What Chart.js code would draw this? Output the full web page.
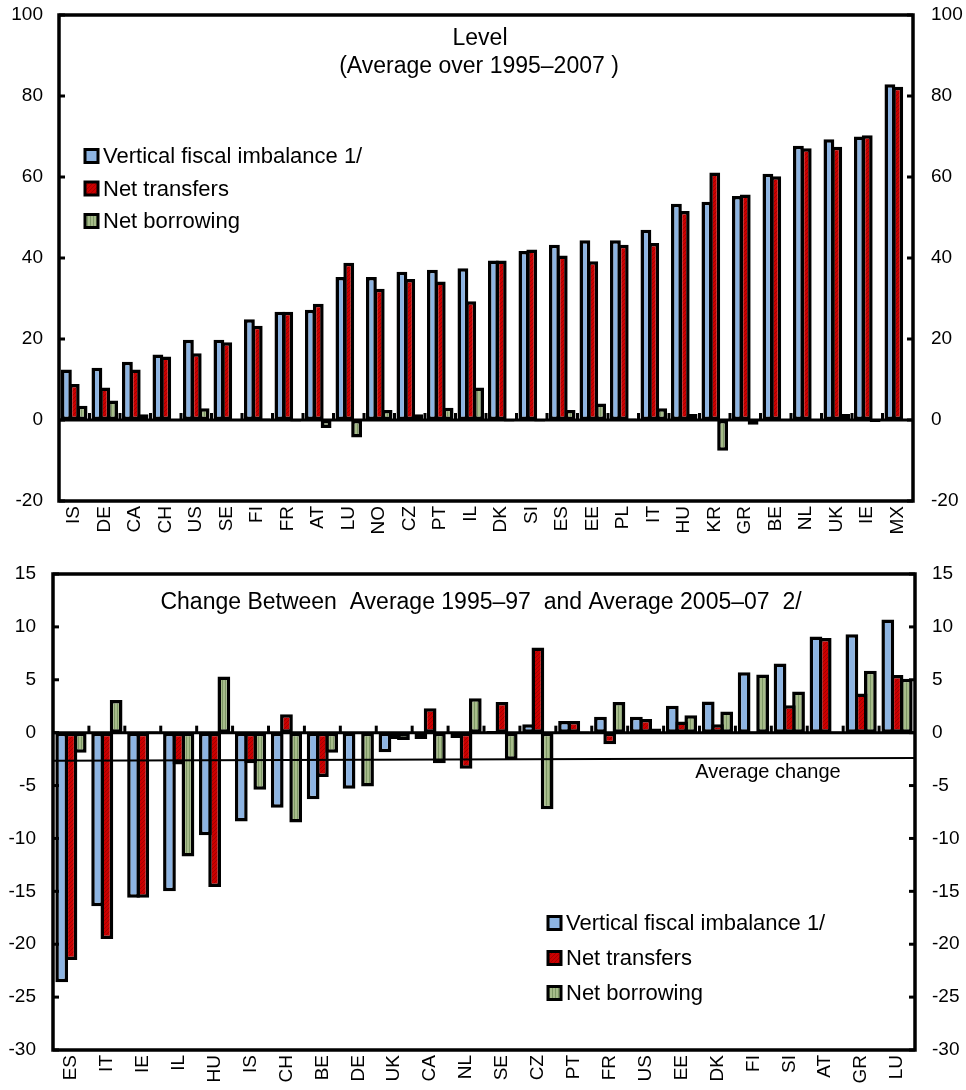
<!DOCTYPE html>
<html><head><meta charset="utf-8">
<script src="https://cdn.jsdelivr.net/npm/chart.js@4/dist/chart.umd.min.js"></script>
<style>
html,body{margin:0;padding:0;background:#fff;}
#wrap{position:relative;width:966px;height:1090px;overflow:hidden;}
canvas{position:absolute;left:0;}
#c1{top:0;}
#c2{top:545px;}
#c3{top:545px;}
</style></head><body>
<div id="wrap">
<canvas id="c1" width="966" height="545" style="width:966px;height:545px"></canvas>
<canvas id="c2" width="966" height="545" style="width:966px;height:545px"></canvas>
<canvas id="c3" width="966" height="545" style="width:966px;height:545px"></canvas>
</div>
<script>
// ---------- DATA ----------
const seriesNames = ['Vertical fiscal imbalance 1/', 'Net transfers', 'Net borrowing'];

const levelTitle = ['Level', '(Average over 1995\u20132007 )'];
const levelCategories = ['IS','DE','CA','CH','US','SE','FI','FR','AT','LU','NO','CZ','PT','IL','DK','SI','ES','EE','PL','IT','HU','KR','GR','BE','NL','UK','IE','MX'];
const levelVFI = [12.5,12.9,14.4,16.2,19.8,19.8,24.9,26.7,27.2,35.3,35.3,36.6,37.1,37.5,39.4,41.7,43.3,44.4,44.4,47.0,53.4,53.9,55.3,60.8,67.7,69.3,70.0,82.9];
const levelNT  = [8.9,8.0,12.5,15.7,16.5,19.2,23.3,26.7,28.7,38.8,32.4,34.8,34.2,29.3,39.4,42.1,40.6,39.2,43.3,43.7,51.6,61.1,55.7,60.2,67.1,67.5,70.3,82.3];
const levelNB  = [3.5,4.8,1.4,0.1,2.9,0.1,0.4,-0.4,-2.0,-4.3,2.5,1.4,3.0,8.0,-0.4,-0.4,2.5,4.1,0.4,2.9,1.5,-7.6,-1.2,0.1,0.1,1.5,-0.5,0.1];
const levelTicks = {min:-20, max:100, step:20};

const changeTitle = 'Change Between  Average 1995\u201397  and Average 2005\u201307  2/';
const changeCategories = ['ES','IT','IE','IL','HU','IS','CH','BE','DE','UK','CA','NL','SE','CZ','PT','FR','US','EE','DK','FI','SI','AT','GR','LU'];
const changeVFI = [-23.6,-16.4,-15.6,-15.0,-9.7,-8.4,-7.1,-6.3,-5.3,-1.85,-0.6,-0.5,0.15,0.8,1.1,1.5,1.5,2.55,2.95,5.7,6.55,9.1,9.3,10.7];
const changeNT  = [-21.5,-19.5,-15.6,-3.0,-14.6,-2.9,1.75,-4.2,-0.1,-0.6,2.3,-3.4,2.9,8.05,1.1,-1.1,1.3,1.05,0.8,0.1,2.6,8.95,3.7,5.45];
const changeNB  = [-1.9,3.1,0.1,-11.7,5.3,-5.4,-8.5,-1.9,-5.1,-0.7,-2.9,3.25,-2.55,-7.25,0.1,2.9,0.4,1.65,2.0,5.5,3.9,0.1,5.85,5.1];
const changeTicks = {min:-30, max:15, step:5};
const averageChangeLabel = 'Average change';
const averageChangeEnds = [-2.65, -2.4];

// ---------- STYLE ----------
const FONT = '"Liberation Sans", Arial, sans-serif';
function pattern(base, stripe, kind){
  const c = document.createElement('canvas');
  const n = kind === 'v' ? 3 : 4;
  c.width = n; c.height = n;
  const g = c.getContext('2d');
  g.fillStyle = base; g.fillRect(0,0,n,n);
  g.fillStyle = stripe;
  if (kind === 'v') { g.fillRect(0,0,1,n); }
  else { for (let i=0;i<n;i++) g.fillRect(i,n-1-i,1,1); }
  return g.createPattern(c,'repeat');
}
const fills = [
  '#8DB4E2',
  pattern('#CC0000', '#A30000', 'd'),
  pattern('#A7BC8A', '#7E9866', 'v')
];

function makeDatasets(vals){
  return vals.map((v,i)=>({
    label: seriesNames[i], data: v, backgroundColor: fills[i],
    borderColor:'#000', borderWidth:3.5, borderSkipped:false,
    categoryPercentage:0.772, barPercentage:1.38
  }));
}

function decor(opts){
  return {
    id:'decor',
    afterDatasetsDraw(chart){
      const {ctx, chartArea:a, scales} = chart;
      const ys = scales.y;
      const y0 = ys.getPixelForValue(0);
      const line = (x1,y1,x2,y2)=>{ctx.beginPath();ctx.moveTo(x1,y1);ctx.lineTo(x2,y2);ctx.stroke();};
      ctx.save();
      ctx.strokeStyle = '#000';
      ctx.lineWidth = 3;
      line(a.left, y0, a.right, y0);
      const n = chart.data.labels.length;
      for (let i=1;i<n;i++){ const x = a.left + (a.right-a.left)*i/n; line(x, y0+1, x, y0-7); }
      ys.ticks.forEach(t=>{
        const y = ys.getPixelForValue(t.value);
        line(a.left, y, a.left+6, y);
        line(a.right, y, a.right-6, y);
      });
      ctx.lineWidth = 3.5;
      ctx.strokeRect(a.left, a.top, a.right-a.left, a.bottom-a.top);
      ctx.fillStyle = '#000';
      ctx.textAlign = 'center'; ctx.textBaseline = 'middle';
      ctx.font = '23px ' + FONT;
      opts.titles.forEach(t=> ctx.fillText(t.text, t.x, t.y));
      (opts.labels||[]).forEach(t=>{ ctx.font = t.size+'px '+FONT; ctx.fillText(t.text, t.x, t.y); });
      ctx.textAlign = 'left';
      ctx.font = '22px ' + FONT;
      chart.data.datasets.forEach((d,i)=>{
        const cy = opts.legend.y + i*opts.legend.dy;
        const bx = opts.legend.x;
        ctx.fillStyle = d.backgroundColor;
        ctx.fillRect(bx, cy-6.5, 13, 13);
        ctx.lineWidth = 3;
        ctx.strokeRect(bx, cy-6.5, 13, 13);
        ctx.fillStyle = '#000';
        ctx.fillText(d.label, bx+18, cy+1);
      });
      ctx.restore();
    }
  };
}

function axisCfg(t, w, pad, pos){
  return {
    position: pos, min:t.min, max:t.max,
    ticks:{stepSize:t.step, padding:pad, color:'#000', font:{family:FONT, size:19}},
    grid:{display:false, drawTicks:false}, border:{display:false},
    afterFit(s){ s.width = w; s.paddingTop = 0; s.paddingBottom = 0; }
  };
}
function xCfg(h, size){
  return {
    grid:{display:false, drawTicks:false}, border:{display:false},
    ticks:{minRotation:90, maxRotation:90, autoSkip:false, padding:5, color:'#000', font:{family:FONT, size:size}},
    afterFit(s){ s.height = h; s.paddingLeft = 0; s.paddingRight = 0; }
  };
}

Chart.defaults.font.family = FONT;

// ---------- TOP CHART ----------
new Chart(document.getElementById('c1'), {
  type:'bar',
  data:{ labels: levelCategories, datasets: makeDatasets([levelVFI, levelNT, levelNB]) },
  options:{
    responsive:false, animation:false, devicePixelRatio:1,
    layout:{padding:{top:15, left:0, right:0, bottom:0}},
    plugins:{legend:{display:false}, tooltip:{enabled:false}},
    scales:{
      x: xCfg(44, 19),
      y: axisCfg(levelTicks, 59, 16, 'left'),
      y2: axisCfg(levelTicks, 53, 18, 'right')
    }
  },
  plugins:[decor({
    titles:[{text:levelTitle[0], x:480, y:39},{text:levelTitle[1], x:479, y:67}],
    legend:{x:85, y:156, dy:32.5}
  })]
});

// ---------- BOTTOM CHART ----------
new Chart(document.getElementById('c2'), {
  type:'bar',
  data:{ labels: changeCategories, datasets: makeDatasets([changeVFI, changeNT, changeNB]) },
  options:{
    responsive:false, animation:false, devicePixelRatio:1,
    layout:{padding:{top:29, left:0, right:0, bottom:0}},
    plugins:{legend:{display:false}, tooltip:{enabled:false}},
    scales:{
      x: xCfg(40, 19),
      y: axisCfg(changeTicks, 53, 17, 'left'),
      y2: axisCfg(changeTicks, 51, 17, 'right')
    }
  },
  plugins:[decor({
    titles:[{text:changeTitle, x:481, y:58}],
    labels:[{text:averageChangeLabel, x:768, y:227, size:20}],
    legend:{x:548, y:378, dy:35}
  })]
});

// ---------- AVERAGE CHANGE LINE (overlay with identical plot area) ----------
new Chart(document.getElementById('c3'), {
  type:'line',
  data:{ datasets:[{
    label: averageChangeLabel,
    data: averageChangeEnds.map((v,i)=>({x:i, y:v})),
    borderColor:'#000', borderWidth:2, pointRadius:0, fill:false
  }]},
  options:{
    responsive:false, animation:false, devicePixelRatio:1,
    layout:{padding:{top:29, left:53, right:51, bottom:40}},
    plugins:{legend:{display:false}, tooltip:{enabled:false}},
    scales:{
      x:{ type:'linear', min:0, max:1, display:false },
      y:{ min:changeTicks.min, max:changeTicks.max, display:false }
    }
  }
});
</script>
</body></html>
